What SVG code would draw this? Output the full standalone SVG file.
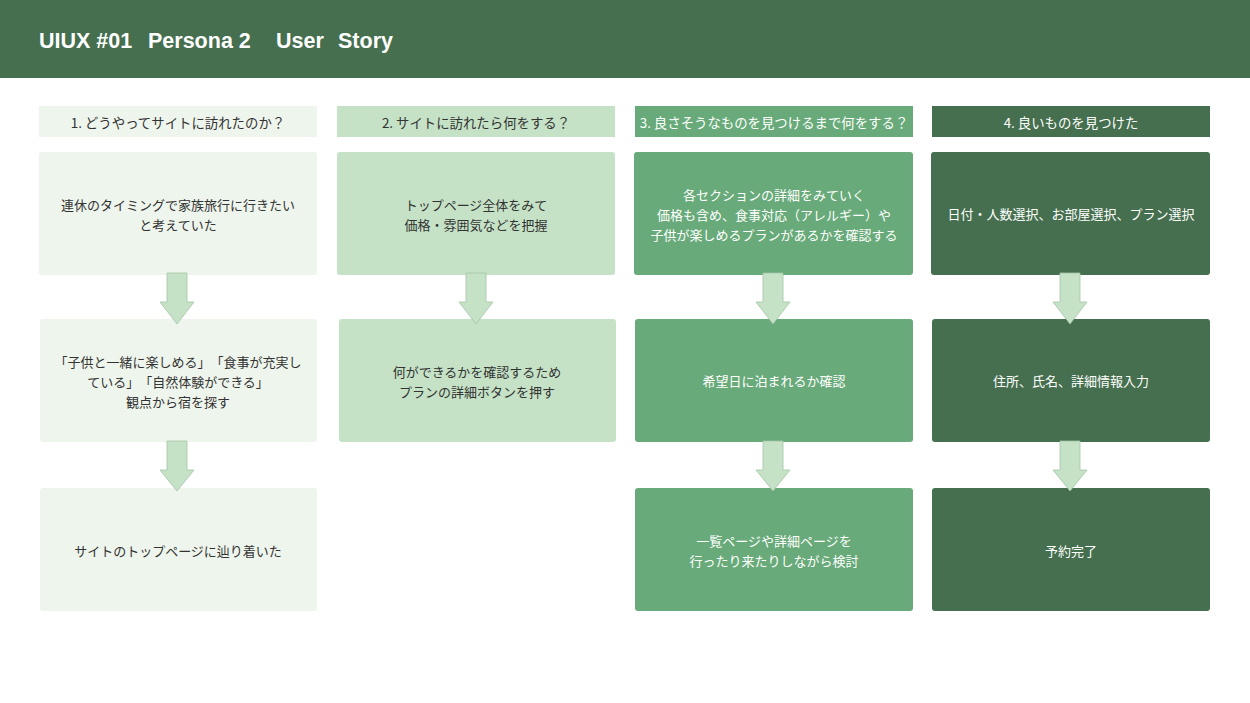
<svg xmlns="http://www.w3.org/2000/svg" width="1250" height="703" viewBox="0 0 1250 703">
<style>
.t{font-family:"Noto Sans CJK JP","Liberation Sans",sans-serif;font-size:13px;text-anchor:middle;dominant-baseline:central;text-spacing-trim:space-all}
.h{font-size:13.4px}
.dk{fill:#333333}
.wh{fill:#ffffff}
.c1{fill:#eef5ec}
.c2{fill:#c5e2c6}
.c3{fill:#68aa79}
.c4{fill:#456f4e}
.arrow{fill:#c5e2c6;stroke:#a3c4a6;stroke-width:0.8}
.title{font-family:"Liberation Sans",Arial,sans-serif;font-size:21.5px;font-weight:bold;fill:#ffffff}
</style>
<rect x="0" y="0" width="1250" height="703" fill="#ffffff"/>
<g id="titlebar">
<rect x="0" y="0" width="1250" height="78" class="c4"/>
<text y="48" class="title"><tspan x="39">UIUX #01</tspan><tspan x="148">Persona 2</tspan><tspan x="276">User</tspan><tspan x="338">Story</tspan></text>
</g>
<g id="header1"><rect x="39" y="106" width="278" height="31" class="c1"/><text x="178" y="121.5" class="t h dk">1. どうやってサイトに訪れたのか？</text></g>
<g id="header2"><rect x="337" y="106" width="278" height="31" class="c2"/><text x="476" y="121.5" class="t h dk">2. サイトに訪れたら何をする？</text></g>
<g id="header3"><rect x="635" y="106" width="278" height="31" class="c3"/><text x="774" y="121.5" class="t h wh">3. 良さそうなものを見つけるまで何をする？</text></g>
<g id="header4"><rect x="932" y="106" width="278" height="31" class="c4"/><text x="1071" y="121.5" class="t h wh">4. 良いものを見つけた</text></g>

<g id="n1a"><rect x="39" y="152" width="278" height="123" rx="3" class="c1"/>
<text class="t dk"><tspan x="178" y="203.5">連休のタイミングで家族旅行に行きたい</tspan><tspan x="178" y="223.5">と考えていた</tspan></text></g>
<g id="n1b"><rect x="40" y="319" width="277" height="123" rx="3" class="c1"/>
<text class="t dk"><tspan x="178" y="361">「子供と一緒に楽しめる」「食事が充実し</tspan><tspan x="178" y="381">ている」「自然体験ができる」</tspan><tspan x="178" y="401">観点から宿を探す</tspan></text></g>
<g id="n1c"><rect x="40" y="488" width="277" height="123" rx="3" class="c1"/>
<text x="178" y="550" class="t dk">サイトのトップページに辿り着いた</text></g>

<g id="n2a"><rect x="337" y="152" width="278" height="123" rx="3" class="c2"/>
<text class="t dk"><tspan x="476" y="203.5">トップページ全体をみて</tspan><tspan x="476" y="223.5">価格・雰囲気などを把握</tspan></text></g>
<g id="n2b"><rect x="339" y="319" width="277" height="123" rx="3" class="c2"/>
<text class="t dk"><tspan x="477" y="370.5">何ができるかを確認するため</tspan><tspan x="477" y="390.5">プランの詳細ボタンを押す</tspan></text></g>

<g id="n3a"><rect x="634" y="152" width="279" height="123" rx="3" class="c3"/>
<text class="t wh"><tspan x="774" y="193.5">各セクションの詳細をみていく</tspan><tspan x="774" y="213.5">価格も含め、食事対応（アレルギー）や</tspan><tspan x="774" y="233.5">子供が楽しめるプランがあるかを確認する</tspan></text></g>
<g id="n3b"><rect x="635" y="319" width="278" height="123" rx="3" class="c3"/>
<text x="774" y="380.5" class="t wh">希望日に泊まれるか確認</text></g>
<g id="n3c"><rect x="635" y="488" width="278" height="123" rx="3" class="c3"/>
<text class="t wh"><tspan x="774" y="540">一覧ページや詳細ページを</tspan><tspan x="774" y="560">行ったり来たりしながら検討</tspan></text></g>

<g id="n4a"><rect x="931" y="152" width="279" height="123" rx="3" class="c4"/>
<text x="1071" y="213.5" class="t wh">日付・人数選択、お部屋選択、プラン選択</text></g>
<g id="n4b"><rect x="932" y="319" width="278" height="123" rx="3" class="c4"/>
<text x="1071" y="380.5" class="t wh">住所、氏名、詳細情報入力</text></g>
<g id="n4c"><rect x="932" y="488" width="278" height="123" rx="3" class="c4"/>
<text x="1071" y="550" class="t wh">予約完了</text></g>

<g id="connectors">
<path class="arrow" d="M167,273 H187 V302 H194 L177,324 L160,302 H167 Z"/>
<path class="arrow" d="M167,441 H187 V470 H194 L177,491 L160,470 H167 Z"/>
<path class="arrow" d="M466,273 H486 V302 H493 L476,324 L459,302 H466 Z"/>
<path class="arrow" d="M763,273 H783 V302 H790 L773,324 L756,302 H763 Z"/>
<path class="arrow" d="M763,441 H783 V470 H790 L773,491 L756,470 H763 Z"/>
<path class="arrow" d="M1060,273 H1080 V302 H1087 L1070,324 L1053,302 H1060 Z"/>
<path class="arrow" d="M1060,441 H1080 V470 H1087 L1070,491 L1053,470 H1060 Z"/>
</g>
</svg>
